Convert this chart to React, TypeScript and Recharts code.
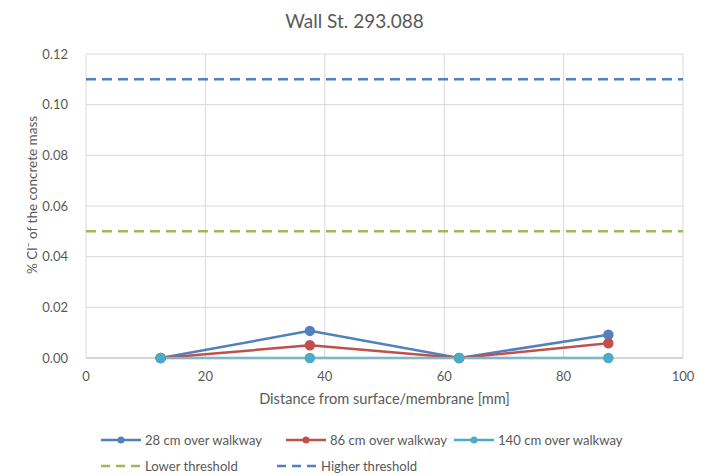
import React from "react";
import { LineChart, Line, XAxis, YAxis, CartesianGrid } from "recharts";

const depths = [12.5, 37.5, 62.5, 87.5];
const cm28 = [0, 0.0107, 0, 0.0092];
const cm86 = [0, 0.005, 0, 0.0058];
const cm140 = [0, 0, 0, 0];
const thresholdX = [0, 100];
const lowerThreshold = 0.05;
const higherThreshold = 0.11;
const xTicks = [0, 20, 40, 60, 80, 100];
const yTicks = [0, 0.02, 0.04, 0.06, 0.08, 0.1, 0.12];

const seriesNames = ["28 cm over walkway", "86 cm over walkway", "140 cm over walkway", "Lower threshold", "Higher threshold"];
const colors = ["#4F81BD", "#C0504D", "#4BACC6", "#9BBB59", "#4F81BD"];

const mk = (vals: number[]) => depths.map((x, i) => ({ x, y: vals[i] }));
const d28 = mk(cm28);
const d86 = mk(cm86);
const d140 = mk(cm140);
const dLow = thresholdX.map((x) => ({ x, y: lowerThreshold }));
const dHigh = thresholdX.map((x) => ({ x, y: higherThreshold }));

const FONT = "Lato, 'Open Sans', sans-serif";
const TXT = "#595959";

const LegendBlock = () => {
  const item = (i: number, left: number, top: number, dashed: boolean) => (
    <div key={i} style={{ position: "absolute", left, top, height: 16, display: "flex", alignItems: "center", whiteSpace: "nowrap" }}>
      <svg width={42} height={12} style={{ marginRight: 3 }}>
        {dashed ? (
          <line x1={1} y1={6} x2={42} y2={6} stroke={colors[i]} strokeWidth={2.5} strokeDasharray="9 6" />
        ) : (
          <>
            <line x1={1} y1={6} x2={41} y2={6} stroke={colors[i]} strokeWidth={2.5} />
            <circle cx={21} cy={6} r={3.5} fill={colors[i]} />
          </>
        )}
      </svg>
      <span style={{ fontFamily: FONT, fontSize: 13.1, color: TXT }}>{seriesNames[i]}</span>
    </div>
  );
  return (
    <div style={{ position: "absolute", left: 0, top: 432, width: 709, height: 43 }}>
      {item(0, 100, 0, false)}
      {item(1, 285, 0, false)}
      {item(2, 453, 0, false)}
      {item(3, 100, 26, true)}
      {item(4, 276, 26, true)}
    </div>
  );
};

const YLabel = () => (
  <text x={37} y={195} transform="rotate(-90 37 195)" textAnchor="middle" fill={TXT} fontSize={13.5} fontFamily={FONT}>
    % Cl<tspan dy={-5} fontSize={9}>−</tspan><tspan dy={5}> of the concrete mass</tspan>
  </text>
);

export default function App() {
  return (
    <div style={{ position: "absolute", left: 0, top: 0, width: 709, height: 475, background: "#fff" }}>
      <div style={{ position: "absolute", left: 0, top: 9, width: 709, textAlign: "center", fontFamily: FONT, fontSize: 19, color: TXT }}>
        Wall St. 293.088
      </div>
      <LineChart width={709} height={475} margin={{ top: 54, right: 26, bottom: 87, left: 0 }}>
        <CartesianGrid stroke="#d9d9d9" strokeWidth={1} />
        <XAxis
          type="number"
          dataKey="x"
          domain={[0, 100]}
          ticks={xTicks}
          height={30}
          axisLine={{ stroke: "#bfbfbf" }}
          tickLine={false}
          tick={{ fill: TXT, fontSize: 13, fontFamily: FONT }}
          tickMargin={8}
          label={{ value: "Distance from surface/membrane [mm]", position: "insideTop", offset: 36, fill: TXT, fontSize: 14.6, fontFamily: FONT }}
        />
        <YAxis
          type="number"
          dataKey="y"
          domain={[0, 0.12]}
          ticks={yTicks}
          width={86}
          axisLine={false}
          tickLine={false}
          tickFormatter={(v: number) => v.toFixed(2)}
          tick={{ fill: TXT, fontSize: 13, fontFamily: FONT }}
          tickMargin={12}
          label={<YLabel />}
        />
        <Line data={dHigh} dataKey="y" stroke={colors[4]} strokeWidth={2.5} strokeDasharray="10 6" dot={false} isAnimationActive={false} />
        <Line data={dLow} dataKey="y" stroke={colors[3]} strokeWidth={2.5} strokeDasharray="10 6" dot={false} isAnimationActive={false} />
        <Line data={d28} dataKey="y" stroke={colors[0]} strokeWidth={2.5} dot={{ r: 4, fill: colors[0], stroke: colors[0] }} isAnimationActive={false} />
        <Line data={d86} dataKey="y" stroke={colors[1]} strokeWidth={2.5} dot={{ r: 4, fill: colors[1], stroke: colors[1] }} isAnimationActive={false} />
        <Line data={d140} dataKey="y" stroke={colors[2]} strokeWidth={2.5} dot={{ r: 4, fill: colors[2], stroke: colors[2] }} isAnimationActive={false} />
      </LineChart>
      <LegendBlock />
    </div>
  );
}
